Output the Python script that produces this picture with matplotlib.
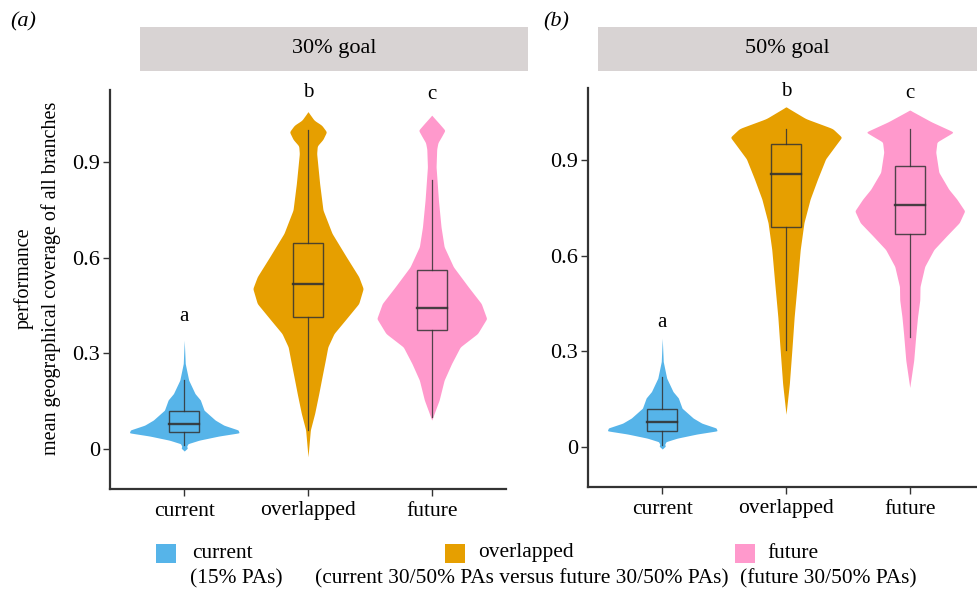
import numpy as np
import matplotlib
matplotlib.use("Agg")
import matplotlib.pyplot as plt
from matplotlib.patches import Rectangle

plt.rcParams['font.family'] = ['Liberation Serif', 'DejaVu Serif']

# ---------------- data ----------------
categories = ["current", "overlapped", "future"]
colors = ["#56B4E9", "#E69F00", "#FF99CC"]
panel_titles = ["30% goal", "50% goal"]
panel_tags = ["(a)", "(b)"]
sig_letters = ["a", "b", "c"]
y_ticks = [0, 0.3, 0.6, 0.9]
y_ticklabels = ["0", "0.3", "0.6", "0.9"]

# violin outlines: value levels and half-widths (category units)
cur_y = [-0.006, 0.003, 0.009, 0.017, 0.028, 0.041, 0.051, 0.060, 0.075, 0.091, 0.122, 0.154, 0.174, 0.216, 0.268, 0.341]
cur_w = [0.0, 0.025, 0.02, 0.03, 0.12, 0.28, 0.444, 0.435, 0.32, 0.25, 0.16, 0.13, 0.087, 0.036, 0.008, 0.0]

ovl30_y = [-0.024, 0.06, 0.112, 0.174, 0.226, 0.279, 0.320, 0.362, 0.404, 0.456, 0.503, 0.540, 0.602, 0.676, 0.749, 0.832, 0.926, 0.950, 0.970, 0.994, 1.015, 1.030, 1.057]
ovl30_w = [0.0, 0.019, 0.054, 0.087, 0.113, 0.14, 0.16, 0.21, 0.30, 0.41, 0.446, 0.41, 0.31, 0.194, 0.121, 0.094, 0.07, 0.075, 0.12, 0.15, 0.11, 0.05, 0.0]

fut30_y = [0.091, 0.154, 0.216, 0.268, 0.32, 0.362, 0.409, 0.456, 0.508, 0.571, 0.634, 0.696, 0.78, 0.884, 0.94, 0.96, 0.98, 0.999, 1.02, 1.046]
fut30_w = [0.0, 0.06, 0.10, 0.16, 0.23, 0.37, 0.444, 0.40, 0.296, 0.175, 0.10, 0.075, 0.054, 0.035, 0.04, 0.05, 0.08, 0.107, 0.06, 0.0]

ovl50_y = [0.103, 0.198, 0.303, 0.408, 0.514, 0.619, 0.703, 0.777, 0.84, 0.903, 0.945, 0.971, 0.998, 1.029, 1.066]
ovl50_w = [0.0, 0.027, 0.047, 0.066, 0.091, 0.115, 0.145, 0.195, 0.255, 0.32, 0.40, 0.45, 0.376, 0.16, 0.0]

fut50_y = [0.187, 0.272, 0.356, 0.408, 0.461, 0.503, 0.566, 0.619, 0.661, 0.703, 0.74, 0.777, 0.808, 0.861, 0.924, 0.956, 0.987, 1.019, 1.056]
fut50_w = [0.0, 0.032, 0.05, 0.063, 0.081, 0.083, 0.121, 0.195, 0.296, 0.40, 0.444, 0.38, 0.315, 0.235, 0.21, 0.22, 0.355, 0.175, 0.0]

# box stats: (whisker low, q1, median, q3, whisker high)
box30 = [(0.013, 0.053, 0.079, 0.120, 0.216),
         (0.060, 0.413, 0.518, 0.647, 0.999),
         (0.101, 0.373, 0.443, 0.560, 0.843)]
box50 = [(0.008, 0.051, 0.078, 0.118, 0.219),
         (0.305, 0.690, 0.855, 0.950, 0.998),
         (0.345, 0.668, 0.758, 0.882, 0.998)]

letters_y30 = [0.414, 1.116, 1.110]
letters_y50 = [0.390, 1.115, 1.108]

violins30 = [(cur_y, cur_w), (ovl30_y, ovl30_w), (fut30_y, fut30_w)]
violins50 = [(cur_y, cur_w), (ovl50_y, ovl50_w), (fut50_y, fut50_w)]

legend_titles = ["current", "overlapped", "future"]
legend_subs = ["(15% PAs)", "(current 30/50% PAs versus future 30/50% PAs)", "(future 30/50% PAs)"]

# ---------------- drawing ----------------
W, H = 977, 591
fig = plt.figure(figsize=(W / 100, H / 100), dpi=100)


def fx(px):
    return px / W


def fy(py):
    return 1 - py / H


def smooth_outline(ys, ws):
    ys = np.asarray(ys, float)
    ws = np.asarray(ws, float)
    grid = np.linspace(ys[0], ys[-1], 500)
    wv = np.interp(grid, ys, ws)
    k = np.exp(-0.5 * (np.arange(-4, 5) / 1.3) ** 2)
    k /= k.sum()
    pad = np.concatenate([np.zeros(4), wv, np.zeros(4)])
    wv = np.convolve(pad, k, mode="same")[4:-4]
    wv[0] = 0
    wv[-1] = 0
    return grid, wv


def draw_panel(ax, violins, boxes, letters_y):
    for i, ((ys, ws), st, col) in enumerate(zip(violins, boxes, colors)):
        x = i + 1
        g, w = smooth_outline(ys, ws)
        ax.fill_betweenx(g, x - w, x + w, color=col, lw=0, zorder=2)
        lo, q1, med, q3, hi = st
        bw = 0.12
        ax.plot([x, x], [lo, q1], color="#333333", lw=0.9, alpha=0.85, zorder=3)
        ax.plot([x, x], [q3, hi], color="#333333", lw=0.9, alpha=0.85, zorder=3)
        ax.add_patch(Rectangle((x - bw, q1), 2 * bw, q3 - q1, facecolor="none",
                               edgecolor="#333333", lw=1.0, alpha=0.85, zorder=3))
        ax.plot([x - bw, x + bw], [med, med], color="#333333", lw=1.7, alpha=0.9, zorder=4)
        ax.text(x, letters_y[i], sig_letters[i], ha="center", va="center", fontsize=15)
    ax.set_xlim(0.4, 3.6)
    ax.set_ylim(-0.125, 1.125)
    ax.set_xticks([1, 2, 3])
    ax.set_xticklabels(categories, fontsize=15.5)
    ax.set_yticks(y_ticks)
    ax.set_yticklabels(y_ticklabels, fontsize=16)
    for s in ["top", "right"]:
        ax.spines[s].set_visible(False)
    for s in ["left", "bottom"]:
        ax.spines[s].set_color("#333333")
        ax.spines[s].set_linewidth(1.6)
    ax.tick_params(axis="both", color="#333333", length=5, width=1.0)
    ax.tick_params(axis="y", pad=2)
    ax.tick_params(axis="x", pad=4)
    ax.patch.set_alpha(0)


ax1 = fig.add_axes([fx(110), fy(489), fx(396), 399 / H])
ax2 = fig.add_axes([fx(588), fy(487), fx(396), 399 / H])
draw_panel(ax1, violins30, box30, letters_y30)
draw_panel(ax2, violins50, box50, letters_y50)

# strips
for (l, r), title in zip([(140, 528), (598, 977)], panel_titles):
    fig.patches.append(Rectangle((fx(l), fy(71)), fx(r - l), 44 / H, transform=fig.transFigure,
                                 facecolor="#d8d3d3", edgecolor="none", zorder=0))
    fig.text(fx((l + r) / 2), fy(49), title, ha="center", va="center", fontsize=16)

# panel tags
fig.text(fx(10), fy(22), panel_tags[0], ha="left", va="center", fontsize=16, style="italic")
fig.text(fx(543), fy(22), panel_tags[1], ha="left", va="center", fontsize=16, style="italic")

# y label
fig.text(fx(24), fy(278), "performance", rotation=90, ha="center", va="center", fontsize=14.5)
fig.text(fx(51), fy(278), "mean geographical coverage of all branches", rotation=90,
         ha="center", va="center", fontsize=14.5)

# legend
sq_x = [156, 445, 735]
txt_x = [192, 478, 767]
sub_x = [190, 315, 740]
for i in range(3):
    fig.patches.append(Rectangle((fx(sq_x[i]), fy(563)), fx(20), 19 / H, transform=fig.transFigure,
                                 facecolor=colors[i], edgecolor="none"))
    fig.text(fx(txt_x[i]), fy(553), legend_titles[i], ha="left", va="center", fontsize=15.4)
    fig.text(fx(sub_x[i]), fy(579), legend_subs[i], ha="left", va="center", fontsize=15.4)

fig.savefig("out.png", dpi=100)
